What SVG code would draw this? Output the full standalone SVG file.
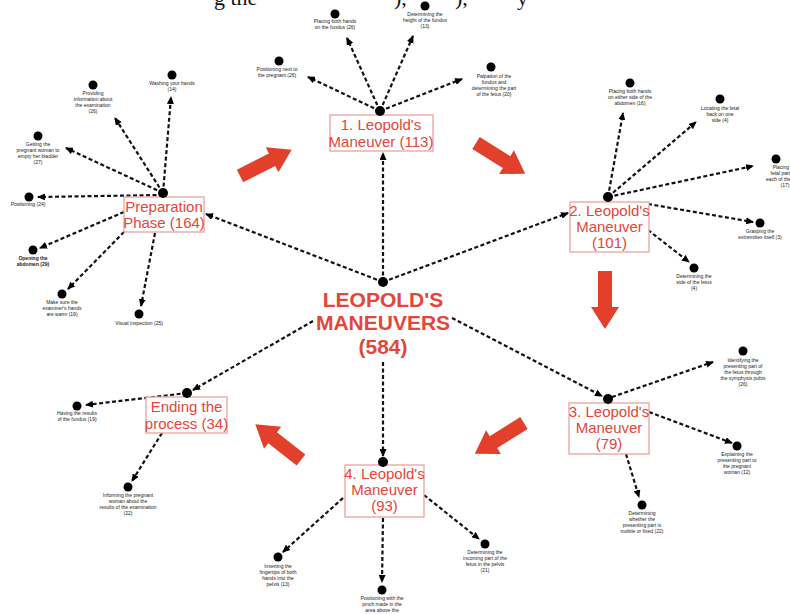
<svg xmlns="http://www.w3.org/2000/svg" width="790" height="614" viewBox="0 0 790 614">
<style>
.c{stroke:#111;stroke-width:2.2;stroke-dasharray:4 2.5;fill:none;marker-end:url(#ah)}
.box{fill:#fff;stroke:#e9a3a0;stroke-width:1.3}
.bt{font-family:"Liberation Sans",Arial,sans-serif;font-size:15px;fill:#e4463a;text-anchor:middle}
.ct{font-family:"Liberation Sans",Arial,sans-serif;font-size:21px;font-weight:bold;fill:#e4463a;text-anchor:middle}
.lt{font-family:"Liberation Sans",Arial,sans-serif;font-size:5px;fill:#222;text-anchor:middle}
.cap{font-family:"Liberation Serif","Times New Roman",serif;font-size:22px;fill:#111}
.d{fill:#000}
.ra{fill:#e2402a}
</style>
<defs>
<marker id="ah" markerWidth="8" markerHeight="7" refX="7" refY="3.5" orient="auto" markerUnits="userSpaceOnUse"><path d="M0,0 L8,3.5 L0,7 z" fill="#000"/></marker>
<path id="blk" d="M0,-7 L36,-7 L36,-14 L58,0 L36,14 L36,7 L0,7 Z"/>
</defs>
<rect width="790" height="614" fill="#fff"/>
<g id="caption">
<text class="cap" x="214" y="5">g the</text>
<text class="cap" x="394" y="5">),</text>
<text class="cap" x="455" y="5">),</text>
<text class="cap" x="517" y="5">y</text>
</g>
<g id="flow-arrows">
<use href="#blk" class="ra" transform="translate(240,176) rotate(-27)"/>
<use href="#blk" class="ra" transform="translate(476,143) rotate(32)"/>
<use href="#blk" class="ra" transform="translate(605,271) rotate(90)"/>
<use href="#blk" class="ra" transform="translate(524,423) rotate(148)"/>
<use href="#blk" class="ra" transform="translate(301,460) rotate(218)"/>
</g>
<g id="connectors">
<line class="c" x1="383" y1="282" x2="206" y2="214"/>
<line class="c" x1="383" y1="282" x2="383" y2="153"/>
<line class="c" x1="383" y1="282" x2="568" y2="213"/>
<line class="c" x1="452" y1="318" x2="602" y2="396"/>
<line class="c" x1="383" y1="362" x2="383" y2="456"/>
<line class="c" x1="313" y1="321" x2="193" y2="390"/>
<line class="c" x1="163" y1="193" x2="171" y2="97"/>
<line class="c" x1="163" y1="193" x2="115" y2="118"/>
<line class="c" x1="163" y1="193" x2="66" y2="148"/>
<line class="c" x1="163" y1="195" x2="38" y2="197"/>
<line class="c" x1="124" y1="212" x2="40" y2="248"/>
<line class="c" x1="124" y1="232" x2="68" y2="289"/>
<line class="c" x1="155" y1="233" x2="141" y2="306"/>
<line class="c" x1="380" y1="111" x2="308" y2="77"/>
<line class="c" x1="380" y1="111" x2="347" y2="38"/>
<line class="c" x1="380" y1="111" x2="413" y2="36"/>
<line class="c" x1="380" y1="111" x2="462" y2="79"/>
<line class="c" x1="608" y1="197" x2="623" y2="113"/>
<line class="c" x1="608" y1="197" x2="696" y2="122"/>
<line class="c" x1="608" y1="197" x2="753" y2="166"/>
<line class="c" x1="648" y1="204" x2="753" y2="222"/>
<line class="c" x1="648" y1="230" x2="689" y2="262"/>
<line class="c" x1="612" y1="397" x2="713" y2="362"/>
<line class="c" x1="649" y1="412" x2="732" y2="443"/>
<line class="c" x1="626" y1="454" x2="639" y2="497"/>
<line class="c" x1="343" y1="498" x2="283" y2="552"/>
<line class="c" x1="383" y1="518" x2="382" y2="582"/>
<line class="c" x1="424" y1="495" x2="479" y2="539"/>
<line class="c" x1="187" y1="393" x2="86" y2="405"/>
<line class="c" x1="162" y1="433" x2="132" y2="481"/>
</g>
<g id="center">
<circle class="d" cx="383" cy="282" r="5"/>
<text class="ct" x="383" y="307">LEOPOLD'S</text>
<text class="ct" x="383" y="330">MANEUVERS</text>
<text class="ct" x="383" y="354">(584)</text>
</g>
<g id="prep">
<rect class="box" x="124" y="197" width="80" height="35"/>
<text class="bt" x="164" y="212">Preparation</text>
<text class="bt" x="164" y="228">Phase (164)</text>
<circle class="d" cx="163" cy="193" r="5"/>
</g>
<g id="lm1">
<rect class="box" x="330" y="115" width="103" height="36"/>
<text class="bt" x="381" y="130">1. Leopold's</text>
<text class="bt" x="381" y="147">Maneuver (113)</text>
<circle class="d" cx="380" cy="111" r="5"/>
</g>
<g id="lm2">
<rect class="box" x="570" y="202" width="79" height="50"/>
<text class="bt" x="609.5" y="216">2. Leopold's</text>
<text class="bt" x="609.5" y="232">Maneuver</text>
<text class="bt" x="609.5" y="248">(101)</text>
<circle class="d" cx="608" cy="197" r="5"/>
</g>
<g id="lm3">
<rect class="box" x="569" y="403" width="80" height="51"/>
<text class="bt" x="609" y="417">3. Leopold's</text>
<text class="bt" x="609" y="433">Maneuver</text>
<text class="bt" x="609" y="449">(79)</text>
<circle class="d" cx="608" cy="399" r="5"/>
</g>
<g id="lm4">
<rect class="box" x="345" y="465" width="79" height="52"/>
<text class="bt" x="384.5" y="479">4. Leopold's</text>
<text class="bt" x="384.5" y="495">Maneuver</text>
<text class="bt" x="384.5" y="511">(93)</text>
<circle class="d" cx="383" cy="462" r="5"/>
</g>
<g id="ending">
<rect class="box" x="146" y="397" width="81" height="36"/>
<text class="bt" x="186.5" y="412">Ending the</text>
<text class="bt" x="186.5" y="429">process (34)</text>
<circle class="d" cx="187" cy="393" r="5"/>
</g>
<g id="p-a"><circle class="d" cx="172" cy="75" r="4.5"/><text class="lt" x="172" y="85">Washing your hands</text><text class="lt" x="172" y="91">(14)</text></g>
<g id="p-b"><circle class="d" cx="93" cy="85" r="4.5"/><text class="lt" x="93" y="95">Providing</text><text class="lt" x="93" y="101">information about</text><text class="lt" x="93" y="107">the examination</text><text class="lt" x="93" y="113">(26)</text></g>
<g id="p-c"><circle class="d" cx="38" cy="136" r="4.5"/><text class="lt" x="38" y="146">Getting the</text><text class="lt" x="38" y="152">pregnant woman to</text><text class="lt" x="38" y="158">empty her bladder</text><text class="lt" x="38" y="164">(27)</text></g>
<g id="p-d"><circle class="d" cx="29" cy="197" r="4.5"/><text class="lt" x="28" y="206">Positioning (24)</text></g>
<g id="p-e"><circle class="d" cx="33" cy="250" r="4.5"/><text class="lt" x="33" y="260" font-weight="bold">Opening the</text><text class="lt" x="33" y="266" font-weight="bold">abdomen (29)</text></g>
<g id="p-f"><circle class="d" cx="62" cy="294" r="4.5"/><text class="lt" x="62" y="304">Make sure the</text><text class="lt" x="62" y="310">examiner's hands</text><text class="lt" x="62" y="316">are warm (19)</text></g>
<g id="p-g"><circle class="d" cx="139" cy="314" r="4.5"/><text class="lt" x="139" y="325">Visual inspection (25)</text></g>
<g id="l1-a"><circle class="d" cx="279" cy="61" r="4.5"/><text class="lt" x="277" y="71">Positioning next to</text><text class="lt" x="277" y="77">the pregnant (26)</text></g>
<g id="l1-b"><circle class="d" cx="335" cy="14" r="4.5"/><text class="lt" x="335" y="23">Placing both hands</text><text class="lt" x="335" y="29">on the fundus (26)</text></g>
<g id="l1-c"><circle class="d" cx="425" cy="6" r="4.5"/><text class="lt" x="425" y="16">Determining the</text><text class="lt" x="425" y="22">height of the fundus</text><text class="lt" x="425" y="28">(13)</text></g>
<g id="l1-d"><circle class="d" cx="491" cy="67" r="4.5"/><text class="lt" x="494" y="78">Palpation of the</text><text class="lt" x="494" y="84">fundus and</text><text class="lt" x="494" y="90">determining the part</text><text class="lt" x="494" y="96">of the fetus (20)</text></g>
<g id="l2-a"><circle class="d" cx="630" cy="83" r="4.5"/><text class="lt" x="630" y="93">Placing both hands</text><text class="lt" x="630" y="99">on either side of the</text><text class="lt" x="630" y="105">abdomen (16)</text></g>
<g id="l2-b"><circle class="d" cx="720" cy="99" r="4.5"/><text class="lt" x="720" y="110">Locating the fetal</text><text class="lt" x="720" y="116">back on one</text><text class="lt" x="720" y="122">side (4)</text></g>
<g id="l2-c"><circle class="d" cx="776" cy="159" r="4.5"/><text class="lt" x="785" y="169">Placing the</text><text class="lt" x="785" y="175">fetal parts on</text><text class="lt" x="785" y="181">each of the sides</text><text class="lt" x="785" y="187">(17)</text></g>
<g id="l2-d"><circle class="d" cx="760" cy="223" r="4.5"/><text class="lt" x="760" y="233">Grasping the</text><text class="lt" x="760" y="239">extremities itself (3)</text></g>
<g id="l2-e"><circle class="d" cx="694" cy="268" r="4.5"/><text class="lt" x="694" y="278">Determining the</text><text class="lt" x="694" y="284">side of the fetus</text><text class="lt" x="694" y="290">(4)</text></g>
<g id="l3-a"><circle class="d" cx="743" cy="351" r="4.5"/><text class="lt" x="743" y="362">Identifying the</text><text class="lt" x="743" y="368">presenting part of</text><text class="lt" x="743" y="374">the fetus through</text><text class="lt" x="743" y="380">the symphysis pubis</text><text class="lt" x="743" y="386">(26)</text></g>
<g id="l3-b"><circle class="d" cx="737" cy="446" r="4.5"/><text class="lt" x="737" y="456">Explaining the</text><text class="lt" x="737" y="462">presenting part to</text><text class="lt" x="737" y="468">the pregnant</text><text class="lt" x="737" y="474">woman (12)</text></g>
<g id="l3-c"><circle class="d" cx="642" cy="505" r="4.5"/><text class="lt" x="642" y="515">Determining</text><text class="lt" x="642" y="521">whether the</text><text class="lt" x="642" y="527">presenting part is</text><text class="lt" x="642" y="533">mobile or fixed (22)</text></g>
<g id="l4-a"><circle class="d" cx="278" cy="557" r="4.5"/><text class="lt" x="278" y="568">Inserting the</text><text class="lt" x="278" y="574">fingertips of both</text><text class="lt" x="278" y="580">hands into the</text><text class="lt" x="278" y="586">pelvis (13)</text></g>
<g id="l4-b"><circle class="d" cx="382" cy="590" r="4.5"/><text class="lt" x="382" y="600">Positioning with the</text><text class="lt" x="382" y="606">pinch made in the</text><text class="lt" x="382" y="612">area above the</text></g>
<g id="l4-c"><circle class="d" cx="485" cy="544" r="4.5"/><text class="lt" x="485" y="554">Determining the</text><text class="lt" x="485" y="560">incoming part of the</text><text class="lt" x="485" y="566">fetus in the pelvis</text><text class="lt" x="485" y="572">(21)</text></g>
<g id="e-a"><circle class="d" cx="77" cy="406" r="4.5"/><text class="lt" x="77" y="415">Having the results</text><text class="lt" x="77" y="421">of the fundus (19)</text></g>
<g id="e-b"><circle class="d" cx="128" cy="487" r="4.5"/><text class="lt" x="128" y="497">Informing the pregnant</text><text class="lt" x="128" y="503">woman about the</text><text class="lt" x="128" y="509">results of the examination</text><text class="lt" x="128" y="515">(22)</text></g>
</svg>
